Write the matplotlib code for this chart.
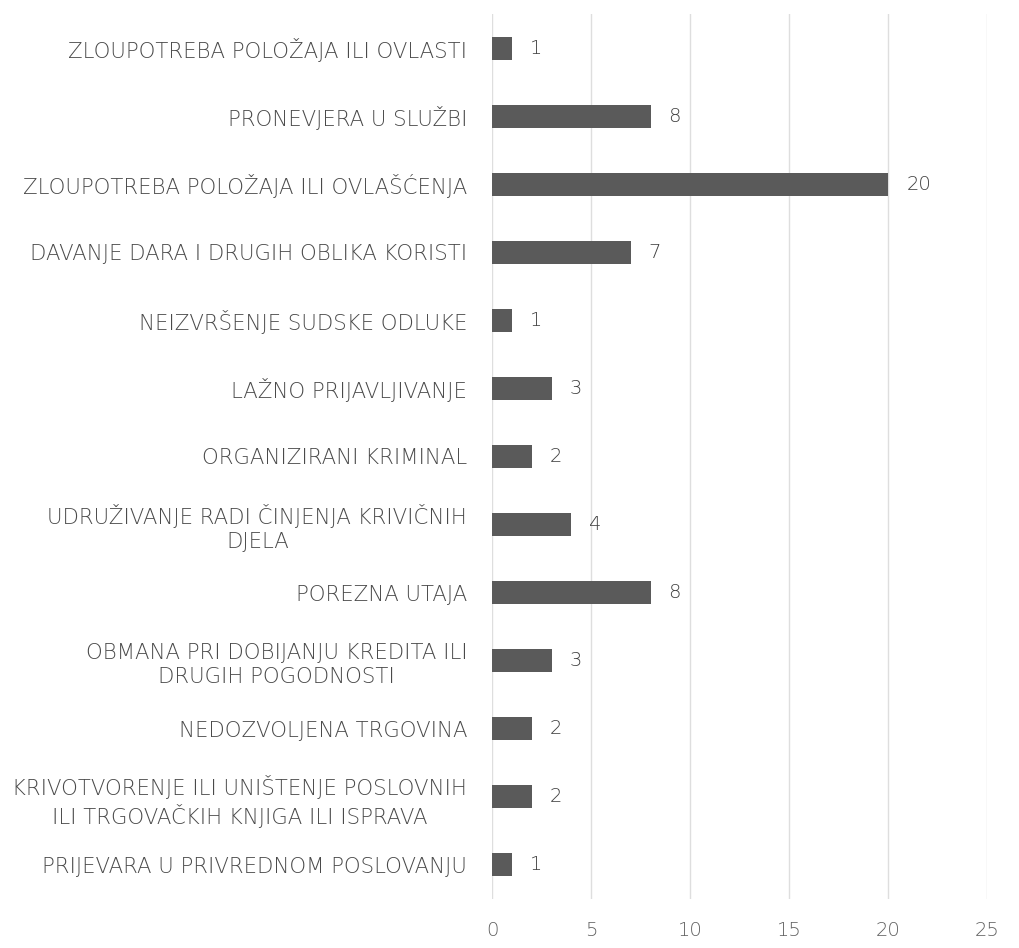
import matplotlib.pyplot as plt

categories = [
    'ZLOUPOTREBA POLOŽAJA ILI OVLASTI',
    'PRONEVJERA U SLUŽBI',
    'ZLOUPOTREBA POLOŽAJA ILI OVLAŠĆENJA',
    'DAVANJE DARA I DRUGIH OBLIKA KORISTI',
    'NEIZVRŠENJE SUDSKE ODLUKE',
    'LAŽNO PRIJAVLJIVANJE',
    'ORGANIZIRANI KRIMINAL',
    'UDRUŽIVANJE RADI ČINJENJA KRIVIČNIH\nDJELA',
    'POREZNA UTAJA',
    'OBMANA PRI DOBIJANJU KREDITA ILI\nDRUGIH POGODNOSTI',
    'NEDOZVOLJENA TRGOVINA',
    'KRIVOTVORENJE ILI UNIŠTENJE POSLOVNIH\nILI TRGOVAČKIH KNJIGA ILI ISPRAVA',
    'PRIJEVARA U PRIVREDNOM POSLOVANJU',
]
values = [1, 8, 20, 7, 1, 3, 2, 4, 8, 3, 2, 2, 1]
x_ticks = [0, 5, 10, 15, 20, 25]

plt.rcParams['font.family'] = ['DejaVu Sans']
text_color = '#4a4a4a'

fig = plt.figure(figsize=(10.19, 9.48), dpi=100)
ax = fig.add_axes([0.483, 0.052, 0.486, 0.933])

pos = list(range(len(categories)))[::-1]
ax.barh(pos, values, height=0.34, color='#5a5a5a', zorder=3)

for p, v in zip(pos, values):
    ax.text(v + 0.9, p, str(v), va='center', ha='left', fontsize=14,
            color='#404040', fontweight='light')

ax.set_xlim(0, 25)
ax.set_ylim(-0.5, len(categories) - 0.5)
ax.set_xticks(x_ticks)
ax.set_yticks(pos)
ax.set_yticklabels(categories, fontsize=15.3, color=text_color, fontweight='light',
                   multialignment='center', linespacing=1.25)
for lbl in ax.get_xticklabels():
    lbl.set_fontweight('light')
ax.tick_params(axis='x', labelsize=14, colors='#606060', length=0, pad=16)
ax.tick_params(axis='y', length=0, pad=18)
ax.grid(axis='x', color='#dedede', linewidth=1, zorder=0)
for s in ax.spines.values():
    s.set_visible(False)

plt.savefig('out.png', dpi=100)
